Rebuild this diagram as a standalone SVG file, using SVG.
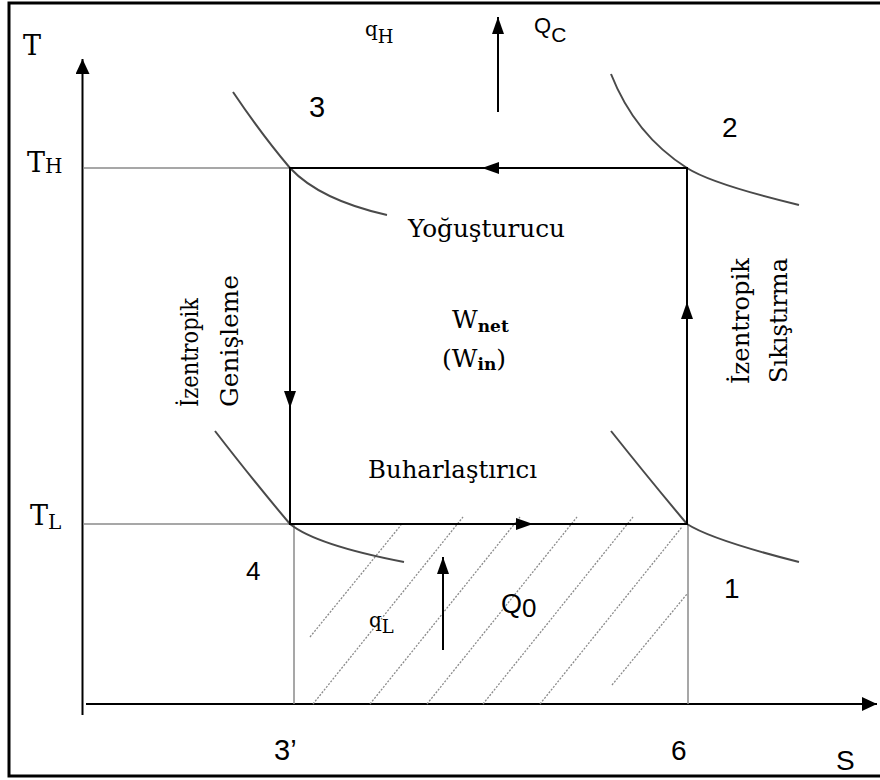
<svg xmlns="http://www.w3.org/2000/svg" width="880" height="780" viewBox="0 0 880 780">
<defs>
<style>
.serif{font-family:"DejaVu Serif","Liberation Serif",serif;fill:#000}
.sans{font-family:"Liberation Sans",Arial,sans-serif;fill:#000}
.thin{stroke:#8a8a8a;stroke-width:1.5;fill:none}
.axis{stroke:#000;stroke-width:2;fill:none}
.cyc{stroke:#000;stroke-width:2;fill:none}
.curve{stroke:#4a4a4a;stroke-width:2;fill:none}
.hatch{stroke:#8a8a8a;stroke-width:1.3;stroke-dasharray:2 1.5;fill:none}
.arr{stroke:#000;stroke-width:2;fill:none;marker-end:url(#ah)}
</style>
<marker id="ah" viewBox="0 0 17 12" refX="17" refY="6" markerWidth="17" markerHeight="12" markerUnits="userSpaceOnUse" orient="auto"><path d="M0,0 L17,6 L0,12 Z" fill="#000"/></marker>
<marker id="axh" viewBox="0 0 15 14" refX="15" refY="7" markerWidth="15" markerHeight="14" markerUnits="userSpaceOnUse" orient="auto"><path d="M0,0 L15,7 L0,14 Z" fill="#000"/></marker>
</defs>
<rect width="880" height="780" fill="#fff"/>
<rect x="9" y="3" width="880" height="773" fill="none" stroke="#000" stroke-width="3"/>

<g id="axes">
<path class="axis" d="M82.5,715 V59" marker-end="url(#axh)"/>
<path class="axis" d="M86,704 H877" marker-end="url(#axh)"/>
<text class="serif" x="23" y="55" font-size="27">T</text>
<text class="sans" x="836" y="770" font-size="28">S</text>
<text class="serif" x="27" y="172" font-size="27">T<tspan font-size="20" dy="1">H</tspan></text>
<text class="serif" x="30" y="525" font-size="27">T<tspan font-size="20" dy="4">L</tspan></text>
<text class="sans" x="274" y="760" font-size="29">3’</text>
<text class="sans" x="671" y="760" font-size="28">6</text>
</g>

<g id="guides">
<path class="thin" d="M83,168 H290 M83,524 H290 M294,524 V704 M688,524 V704"/>
</g>

<g id="hatching">
<path class="hatch" d="M313,704 L463,517 M370,704 L520,517 M427,704 L577,517 M483,704 L633,517 M540,704 L682,527 M310,637 L401,525 M612,685 L687,594"/>
</g>

<g id="saturation-curves">
<path class="curve" d="M233,92 Q262,135 290,168 Q320,200 387,215"/>
<path class="curve" d="M611,74 Q635,135 687,168 Q712,184 799,205"/>
<path class="curve" d="M215,431 Q256,484 290,524 Q316,545 404,562"/>
<path class="curve" d="M611,431 Q650,480 687,524 Q712,540 799,562"/>
</g>

<g id="connectors">
<path class="cyc" d="M290,168 H687 V524 H290 Z"/>
<path class="arr" d="M510,168 L482,168"/>
<path class="arr" d="M290,380 L290,408"/>
<path class="arr" d="M687,330 L687,302"/>
<path class="arr" d="M505,524 L533,524"/>
<path class="arr" d="M498,112 L498,17"/>
<path class="arr" d="M443,650 L443,557"/>
</g>

<g id="state-1"><text class="sans" x="724" y="598" font-size="28">1</text></g>
<g id="state-2"><text class="sans" x="722" y="137" font-size="28">2</text></g>
<g id="state-3"><text class="sans" x="309" y="117" font-size="29">3</text></g>
<g id="state-4"><text class="sans" x="246" y="580" font-size="26">4</text></g>

<g id="condenser">
<text class="serif" x="408" y="237" font-size="25" textLength="157" lengthAdjust="spacingAndGlyphs">Yoğuşturucu</text>
<text class="serif" x="365" y="36" font-size="20">q<tspan font-size="18" dy="7">H</tspan></text>
<text class="sans" x="534" y="33" font-size="22">Q<tspan dy="9" font-size="21">C</tspan></text>
</g>

<g id="evaporator">
<text class="serif" x="368" y="478" font-size="25" textLength="169" lengthAdjust="spacingAndGlyphs">Buharlaştırıcı</text>
<text class="serif" x="369" y="627" font-size="20">q<tspan font-size="18" dy="6">L</tspan></text>
<text class="sans" x="501" y="613" font-size="27">Q<tspan dy="4" font-size="26">0</tspan></text>
</g>

<g id="work">
<text class="serif" x="452" y="328" font-size="25">W<tspan font-size="17" font-weight="bold" dy="4">net</tspan></text>
<text class="serif" x="442" y="367" font-size="25">(W<tspan font-size="17" font-weight="bold" dy="3">in</tspan><tspan dy="-3">)</tspan></text>
</g>

<g id="expansion">
<text class="serif" font-size="25" transform="translate(198,407) rotate(-90)" textLength="109" lengthAdjust="spacingAndGlyphs">İzentropik</text>
<text class="serif" font-size="25" transform="translate(238,407) rotate(-90)" textLength="132" lengthAdjust="spacingAndGlyphs">Genişleme</text>
</g>

<g id="compression">
<text class="serif" font-size="25" transform="translate(749,384) rotate(-90)" textLength="126" lengthAdjust="spacingAndGlyphs">İzentropik</text>
<text class="serif" font-size="25" transform="translate(787,383) rotate(-90)" textLength="125" lengthAdjust="spacingAndGlyphs">Sıkıştırma</text>
</g>
</svg>
